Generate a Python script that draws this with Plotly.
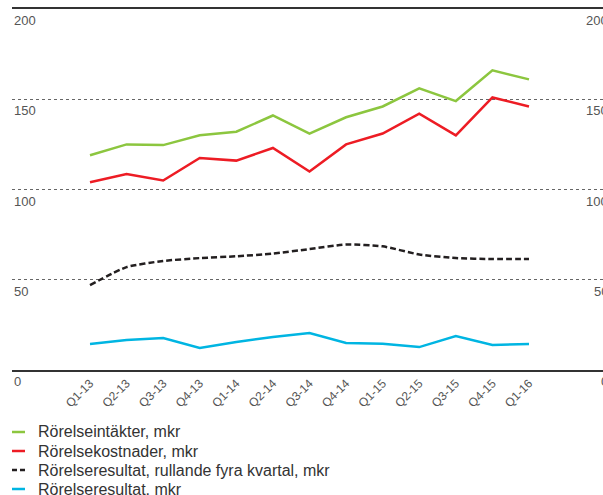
import plotly.graph_objects as go

quarters = ["Q1-13", "Q2-13", "Q3-13", "Q4-13", "Q1-14", "Q2-14", "Q3-14",
            "Q4-14", "Q1-15", "Q2-15", "Q3-15", "Q4-15", "Q1-16"]
intakter = [119, 125, 124.6, 130, 132, 141, 131, 140, 146, 156, 149, 166, 161]
kostnader = [104, 108.6, 105, 117.5, 116, 123, 110, 125, 131, 142, 130, 151, 146]
resultat_rullande = [47, 57, 60.4, 62, 63, 64.5, 67, 69.5, 68.5, 64, 62, 61.5, 61.5]
resultat = [14.4, 16.6, 17.7, 12.2, 15.5, 18.3, 20.5, 15, 14.6, 12.7, 18.8, 13.9, 14.4]
y_ticks = [0, 50, 100, 150, 200]

names = ["Rörelseintäkter, mkr", "Rörelsekostnader, mkr",
         "Rörelseresultat, rullande fyra kvartal, mkr", "Rörelseresultat, mkr"]
colors = ["#8cc63f", "#ed1c24", "#231f20", "#00b5e2"]
dashes = ["solid", "solid", "6px,3px", "solid"]
series = [intakter, kostnader, resultat_rullande, resultat]

FONT = "Liberation Sans, Arial, sans-serif"
GREY = "#555555"

fig = go.Figure()
for name, vals, col, dash in zip(names, series, colors, dashes):
    fig.add_trace(go.Scatter(
        x=quarters, y=vals, mode="lines", name=name,
        line=dict(color=col, width=2.5, dash=dash,
                  shape="spline" if dash != "solid" else "linear",
                  smoothing=0.6),
        showlegend=False, hoverinfo="skip",
    ))

annotations = []
for t in y_ticks:
    annotations.append(dict(x=0, xref="paper", y=t, yref="y", text=str(t),
                            xanchor="left", yanchor="top", yshift=-2, showarrow=False,
                            font=dict(family=FONT, size=13, color=GREY)))
    annotations.append(dict(x=1.0125, xref="paper", y=t, yref="y", text=str(t),
                            xanchor="right", yanchor="top", yshift=-2, showarrow=False,
                            font=dict(family=FONT, size=13, color=GREY)))

# manual legend
shapes = []
plot_top, plot_bottom, plot_left, plot_w = 9, 370, 12, 591
rows_y = [432, 451, 470, 489]
for name, col, dash, ry in zip(names, colors, dashes, rows_y):
    py = (plot_bottom - ry) / (plot_bottom - plot_top)
    shapes.append(dict(type="line", xref="paper", yref="paper",
                       x0=0, x1=13 / plot_w, y0=py, y1=py,
                       line=dict(color=col, width=2.5,
                                 dash="5px,3px" if dash != "solid" else "solid")))
    annotations.append(dict(x=24 / plot_w, xref="paper", y=py, yref="paper",
                            text=name, xanchor="left", yanchor="middle",
                            showarrow=False,
                            font=dict(family=FONT, size=16, color="#333333")))

fig.update_layout(
    width=603, height=495,
    margin=dict(l=12, r=0, t=9, b=125),
    plot_bgcolor="white", paper_bgcolor="white",
    font=dict(family=FONT, color=GREY),
    xaxis=dict(range=[-2.132, 14.023], tickangle=-45, showgrid=False,
               showline=True, mirror=True, linecolor="#333333", linewidth=1.5,
               ticks="", tickfont=dict(size=12, color=GREY), zeroline=False),
    yaxis=dict(range=[0, 200], tickvals=y_ticks, showticklabels=False,
               showgrid=True, gridcolor="#666666", griddash="dot", gridwidth=1,
               zeroline=False, showline=False),
    annotations=annotations,
    shapes=shapes,
    hovermode=False,
)

fig.write_html("out.html", config={"displayModeBar": False},
               post_script="document.body.style.margin='0';document.body.style.overflow='hidden';")
